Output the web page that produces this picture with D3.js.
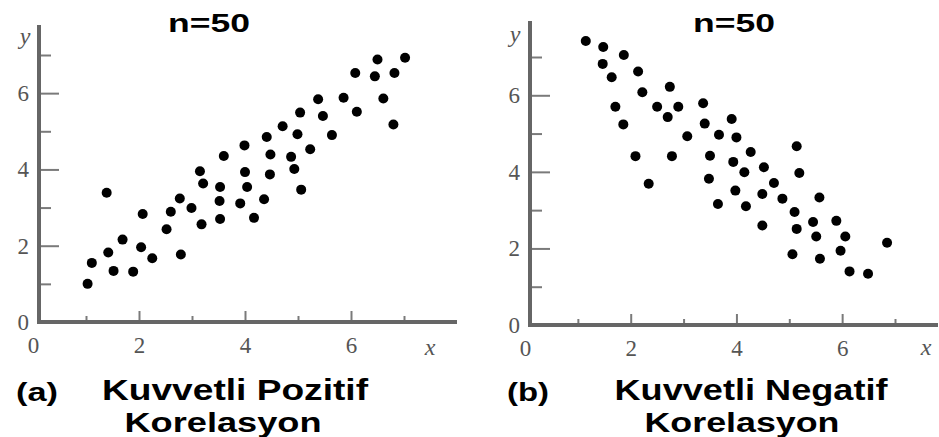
<!DOCTYPE html>
<html>
<head>
<meta charset="utf-8">
<script src="https://cdn.jsdelivr.net/npm/d3@7"></script>
<style>
  body { margin: 0; background: #fff; }
  svg { display: block; }
</style>
</head>
<body>
<svg id="chart" width="939" height="437"></svg>
<script>
// values
const posX = [1.03, 1.11, 1.39, 1.42, 1.52, 1.69, 1.89, 2.04, 2.07, 2.25,
              2.52, 2.60, 2.77, 2.79, 2.99, 3.15, 3.18, 3.21, 3.53, 3.52,
              3.53, 3.60, 3.91, 3.99, 4.00, 4.04, 4.17, 4.36, 4.41, 4.48,
              4.47, 4.71, 4.87, 4.93, 4.99, 5.04, 5.06, 5.23, 5.38, 5.47,
              5.64, 5.86, 6.08, 6.11, 6.45, 6.50, 6.61, 6.80, 6.82, 7.02];
const posY = [1.00, 1.55, 3.39, 1.82, 1.34, 2.16, 1.32, 1.96, 2.83, 1.67,
              2.43, 2.89, 3.24, 1.77, 2.99, 3.95, 2.56, 3.63, 3.54, 3.17,
              2.70, 4.35, 3.11, 4.63, 3.93, 3.54, 2.73, 3.22, 4.85, 4.39,
              3.87, 5.13, 4.33, 4.01, 4.92, 5.49, 3.47, 4.53, 5.84, 5.40,
              4.90, 5.88, 6.53, 5.51, 6.44, 6.88, 5.86, 5.18, 6.53, 6.93];

const negX = [1.15, 1.48, 1.47, 1.87, 1.64, 2.14, 1.71, 2.22, 1.86, 2.74,
              2.50, 2.90, 2.70, 3.37, 3.07, 2.09, 2.78, 2.34, 3.40, 3.67,
              3.91, 4.00, 3.50, 3.48, 4.27, 3.94, 4.15, 4.52, 3.98, 3.65,
              4.18, 4.71, 4.49, 4.87, 4.49, 5.14, 5.19, 5.10, 5.14, 5.57,
              5.45, 5.51, 5.06, 5.58, 5.89, 6.06, 5.97, 6.14, 6.49, 6.85];
const negY = [7.42, 7.26, 6.82, 7.05, 6.47, 6.62, 5.70, 6.08, 5.24, 6.22,
              5.70, 5.70, 5.43, 5.79, 4.93, 4.41, 4.41, 3.69, 5.26, 4.97,
              5.38, 4.90, 4.42, 3.82, 4.52, 4.26, 3.99, 4.12, 3.51, 3.16,
              3.10, 3.71, 3.42, 3.30, 2.60, 4.67, 3.97, 2.95, 2.51, 3.33,
              2.69, 2.31, 1.85, 1.73, 2.72, 2.31, 1.94, 1.40, 1.34, 2.15];

const majorTicks = [0, 2, 4, 6];
const minorTicks = [1, 3, 5, 7];
const titles = ['n=50', 'n=50'];
const letters = ['(a)', '(b)'];
const captions1 = ['Kuvvetli Pozitif', 'Kuvvetli Negatif'];
const captions2 = ['Korelasyon', 'Korelasyon'];

const svg = d3.select('#chart');
svg.append('rect').attr('width', 939).attr('height', 437).attr('fill', '#fff');

// layout of the two panels
const panels = [
  { xs: posX, ys: posY, x0: 33, x7: 404, y0: 322, y7: 55, axisX: 39, top: 25, right: 457,
    titleX: 209, letterX: 37, capX: 235, cap2X: 223, xLab: 430, yLab: 25, yLabY: 44 },
  { xs: negX, ys: negY, x0: 525, x7: 895, y0: 325, y7: 57, axisX: 530, top: 21, right: 938,
    titleX: 734, letterX: 528, capX: 751, cap2X: 742, xLab: 926, yLab: 515, yLabY: 42 }
];

panels.forEach(function(p, i) {
  const xScale = d3.scaleLinear().domain([0, 7]).range([p.x0, p.x7]);
  const yScale = d3.scaleLinear().domain([0, 7]).range([p.y0, p.y7]);
  const g = svg.append('g');

  // y axis: major ticks with labels, minor ticks without
  const yMaj = g.append('g')
      .attr('transform', 'translate(' + p.axisX + ',0)')
      .call(d3.axisLeft(yScale).tickValues(majorTicks).tickFormat(d3.format('d'))
        .tickSize(-20).tickPadding(10));
  const yMin = g.append('g')
      .attr('transform', 'translate(' + p.axisX + ',0)')
      .call(d3.axisLeft(yScale).tickValues(minorTicks).tickSize(-12).tickFormat(''));

  // x axis
  const xMaj = g.append('g')
      .attr('transform', 'translate(0,' + yScale(0) + ')')
      .call(d3.axisBottom(xScale).tickValues(majorTicks).tickFormat(d3.format('d'))
        .tickSize(-11).tickPadding(15));
  const xMin = g.append('g')
      .attr('transform', 'translate(0,' + yScale(0) + ')')
      .call(d3.axisBottom(xScale).tickValues(minorTicks).tickSize(-6).tickFormat(''));

  [yMaj, yMin, xMaj, xMin].forEach(function(a) {
    a.select('.domain').remove();
    a.selectAll('.tick line').attr('stroke', '#7a7a7a').attr('stroke-width', 2);
    a.selectAll('.tick text')
      .style('font-family', '"Liberation Serif", "DejaVu Serif", serif')
      .style('font-size', '23px')
      .attr('fill', '#555');
  });
  // no tick line at x = 0 (it sits on the y axis)
  xMaj.selectAll('.tick').filter(function(d) { return d === 0; }).select('line').remove();

  // axis lines
  g.append('line')
      .attr('x1', p.axisX).attr('x2', p.axisX)
      .attr('y1', p.top).attr('y2', yScale(0))
      .attr('stroke', '#666').attr('stroke-width', 4);
  g.append('line')
      .attr('x1', p.axisX - 2).attr('x2', p.right)
      .attr('y1', yScale(0)).attr('y2', yScale(0))
      .attr('stroke', '#666').attr('stroke-width', 4);

  // axis names
  g.append('text')
      .attr('x', p.xLab).attr('y', 355)
      .attr('text-anchor', 'middle')
      .style('font-family', '"Liberation Serif", serif')
      .style('font-style', 'italic')
      .style('font-size', '24px')
      .attr('fill', '#555')
      .text('x');
  g.append('text')
      .attr('x', p.yLab).attr('y', p.yLabY)
      .attr('text-anchor', 'middle')
      .style('font-family', '"Liberation Serif", serif')
      .style('font-style', 'italic')
      .style('font-size', '24px')
      .attr('fill', '#555')
      .text('y');

  // points
  g.selectAll('circle.dot')
      .data(d3.range(p.xs.length))
      .enter().append('circle')
      .attr('class', 'dot')
      .attr('cx', function(k) { return xScale(p.xs[k]); })
      .attr('cy', function(k) { return yScale(p.ys[k]); })
      .attr('r', 5)
      .attr('fill', '#000');

  // title and captions
  const bold = function(sel, size) {
    return sel.style('font-family', '"Liberation Sans", Arial, sans-serif')
      .style('font-weight', 'bold').style('font-size', size + 'px').attr('fill', '#000');
  };
  bold(g.append('text'), 26)
      .attr('x', p.titleX).attr('y', 32).attr('text-anchor', 'middle')
      .attr('textLength', 82).attr('lengthAdjust', 'spacingAndGlyphs')
      .text(titles[i]);
  bold(g.append('text'), 26)
      .attr('x', p.letterX).attr('y', 401).attr('text-anchor', 'middle')
      .attr('textLength', 42).attr('lengthAdjust', 'spacingAndGlyphs')
      .text(letters[i]);
  bold(g.append('text'), 30)
      .attr('x', p.capX).attr('y', 400).attr('text-anchor', 'middle')
      .attr('textLength', i === 0 ? 266 : 273).attr('lengthAdjust', 'spacingAndGlyphs')
      .text(captions1[i]);
  bold(g.append('text'), 27)
      .attr('x', p.cap2X).attr('y', 432).attr('text-anchor', 'middle')
      .attr('textLength', i === 0 ? 197 : 195).attr('lengthAdjust', 'spacingAndGlyphs')
      .text(captions2[i]);
});
</script>
</body>
</html>
